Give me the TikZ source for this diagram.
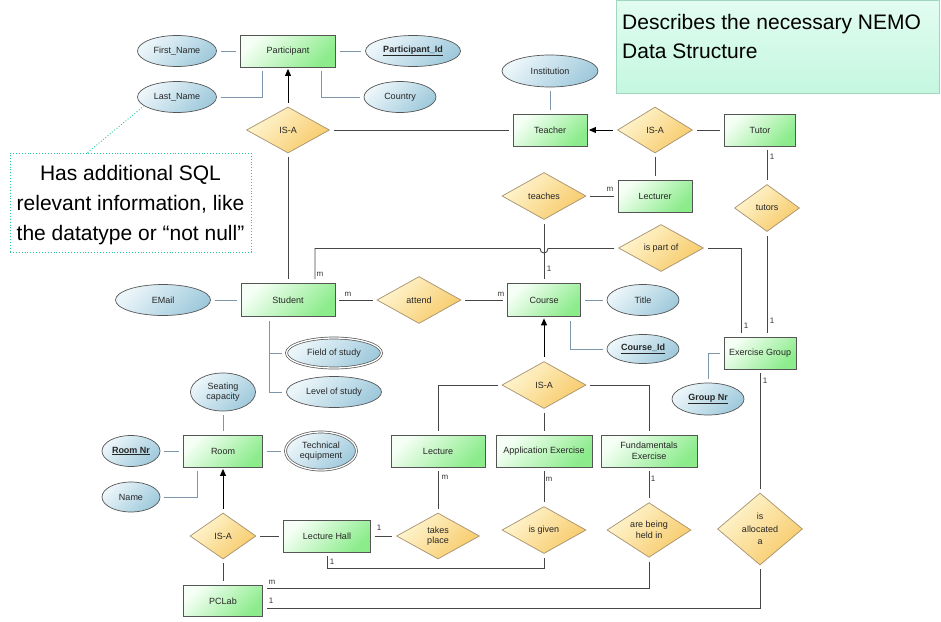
\documentclass[tikz,border=0pt]{standalone}
\usepackage{fontspec}
\setmainfont{Liberation Sans}
\usetikzlibrary{shapes.geometric,arrows.meta,calc}

\definecolor{entL}{RGB}{246,255,246}
\definecolor{entR}{RGB}{140,236,140}
\definecolor{attL}{RGB}{236,246,250}
\definecolor{attR}{RGB}{160,202,220}
\definecolor{relL}{RGB}{255,246,210}
\definecolor{relR}{RGB}{247,202,105}
\definecolor{edge}{RGB}{85,85,85}
\definecolor{reledge}{RGB}{165,145,110}
\definecolor{aline}{RGB}{125,150,172}
\definecolor{rline}{RGB}{70,70,70}
\definecolor{noteG}{RGB}{32,200,160}
\definecolor{noteT}{RGB}{226,252,241}
\definecolor{noteB}{RGB}{196,247,224}
\definecolor{noteE}{RGB}{160,215,190}

\tikzset{
  lbl/.style={font=\fontsize{9}{10.5}\selectfont, align=center, text=black!85},
  entity/.style={lbl, rectangle, draw=edge, line width=0.8pt,
    top color=entL, bottom color=entR, shading angle=45, inner sep=1pt},
  attr/.style={lbl, ellipse, draw=edge, line width=0.7pt,
    top color=attL, bottom color=attR, shading angle=45, inner sep=0pt},
  keyattr/.style={attr, font=\fontsize{9}{10.5}\selectfont\bfseries},
  multiattr/.style={attr, double=white, double distance=1.3pt},
  rel/.style={lbl, diamond, draw=reledge, line width=0.7pt,
    top color=relL, bottom color=relR, shading angle=45, inner sep=0pt},
  sz/.style 2 args={minimum width=#1pt, minimum height=#2pt},
  aconn/.style={draw=aline, line width=0.9pt, shorten <=4pt, shorten >=4pt},
  rconn/.style={draw=rline, line width=0.9pt, shorten <=4pt, shorten >=4pt},
  isarrow/.style={draw=black, line width=0.9pt, shorten <=4pt, shorten >=1.5pt,
    -{Triangle[length=7pt,width=6pt]}},
  card/.style={font=\fontsize{8}{9}\selectfont, inner sep=0pt, text=black!80},
}

\begin{document}
\begin{tikzpicture}[x=1pt,y=-1pt]
\useasboundingbox (0,0) rectangle (941,621);

% ---- note boxes ----
\node[rectangle, draw=noteE, line width=0.8pt, top color=noteT, bottom color=noteB,
      minimum width=323pt, minimum height=93pt, anchor=north west] (note1) at (616,0) {};
\node[anchor=north west, inner sep=0pt, align=left, font=\fontsize{21}{29}\selectfont]
      (note1txt) at ($(note1.north west)+(6,14)$) {Describes the necessary NEMO\\Data Structure};

\node[rectangle, draw=noteG, line width=0.9pt, dotted, fill=white,
      minimum width=241pt, minimum height=99pt] (note2) at (130.5,202.5) {};
\node[inner sep=0pt, align=center, font=\fontsize{21}{30}\selectfont]
      (note2txt) at (130.5,205.5) {Has additional SQL\\relevant information, like\\the datatype or “not null”};

% ---- participant cluster ----
\node[entity, sz={95}{32}] (part) at (288,51) {Participant};
\node[attr, sz={79}{31}] (fname) at (177,51) {First\_Name};
\node[keyattr, sz={95}{31}] (pid) at (413,51) {\underline{Participant\_Id}};
\node[attr, sz={79}{31}] (lname) at (177,97) {Last\_Name};
\node[attr, sz={72}{31}] (country) at (400,97) {Country};
\node[rel, sz={83}{46}] (isa1) at (288,130) {IS-A};

% ---- teacher cluster ----
\node[entity, sz={74}{32}] (teacher) at (550,130) {Teacher};
\node[attr, sz={96}{32}] (inst) at (550,71) {Institution};
\node[rel, sz={75}{46}] (isa2) at (655,130) {IS-A};
\node[entity, sz={71}{32}] (tutor) at (760,130) {Tutor};
\node[entity, sz={74}{32}] (lecturer) at (655,196) {Lecturer};
\node[rel, sz={84}{47}] (teaches) at (544,196) {teaches};
\node[rel, sz={85}{47}] (partof) at (661,248) {is part of};
\node[rel, sz={65}{47}] (tutors) at (767,208) {tutors};

% ---- exercise group ----
\node[entity, sz={72}{32}] (exgroup) at (760,353) {Exercise Group};
\node[keyattr, sz={72}{32}] (groupnr) at (708,399) {\underline{Group Nr}};
\node[rel, sz={85}{72}] (alloc) at (760,529) {is\\[2pt]allocated\\[2pt]a};

% ---- student / course ----
\node[entity, sz={94}{33}] (student) at (288,300) {Student};
\node[attr, sz={95}{31}] (email) at (163,300) {EMail};
\node[rel, sz={84}{47}] (attend) at (419,300) {attend};
\node[entity, sz={73}{33}] (course) at (544,300) {Course};
\node[attr, sz={72}{31}] (title) at (643,300) {Title};
\node[keyattr, sz={72}{29}] (courseid) at (643,349) {\underline{Course\_Id}};
\node[multiattr, sz={95}{30}] (field) at (334,353) {Field of study};
\node[attr, sz={95}{31}] (level) at (334,392) {Level of study};

% ---- course kinds ----
\node[rel, sz={84}{47}] (isa3) at (544,385) {IS-A};
\node[entity, sz={94}{32}] (lecture) at (438,451) {Lecture};
\node[entity, sz={96}{32}] (appex) at (544,451) {Application Exercise};
\node[entity, sz={96}{32}] (fundex) at (649,451) {Fundamentals\\Exercise};
\node[rel, sz={83}{46}] (takes) at (438,536) {takes\\place};
\node[rel, sz={84}{47}] (given) at (544,530) {is given};
\node[rel, sz={84}{47}] (held) at (649,530) {are being\\held in};

% ---- rooms ----
\node[entity, sz={79}{32}] (room) at (223,451) {Room};
\node[attr, sz={65}{38}] (seat) at (223,392) {Seating\\capacity};
\node[keyattr, sz={58}{31}] (roomnr) at (131,451) {\underline{Room Nr}};
\node[attr, sz={58}{30}] (name) at (131,497) {Name};
\node[multiattr, sz={71}{38}] (tech) at (321,451) {Technical\\equipment};
\node[rel, sz={66}{46}] (isa4) at (223,536) {IS-A};
\node[entity, sz={87}{32}] (lhall) at (327,536) {Lecture Hall};
\node[entity, sz={79}{31}] (pclab) at (223,601) {PCLab};

% ---- attribute links ----
\draw[aconn] (fname.east) -- (part.west);
\draw[aconn] (part.east) -- (pid.west);
\draw[aconn] (lname.east) -| ($(part.south)+(-26,0)$);
\draw[aconn] (country.west) -| ($(part.south)+(33,0)$);
\draw[aconn] (inst.south) -- (teacher.north);
\draw[aconn] (email.east) -- (student.west);
\draw[aconn] (title.west) -- (course.east);
\draw[aconn] (courseid.west) -| ($(course.south)+(26,0)$);
\draw[aconn] (groupnr.north) |- (exgroup.west);
\draw[aconn] ($(student.south)+(-19,0)$) |- (field.west);
\draw[aconn] ($(student.south)+(-19,0)$) |- (level.west);
\draw[aconn] (seat.south) -- (room.north);
\draw[aconn] (roomnr.east) -- (room.west);
\draw[aconn] (name.east) -| ($(room.south)+(-26,0)$);
\draw[aconn] (room.east) -- (tech.west);

% ---- generalisations ----
\draw[isarrow] (isa1.north) -- (part.south);
\draw[isarrow] (isa2.west) -- (teacher.east);
\draw[isarrow] (isa3.north) -- (course.south);
\draw[isarrow] (isa4.north) -- (room.south);
\draw[rconn] (isa1.east) -- (teacher.west);
\draw[rconn] (isa1.south) -- (student.north);
\draw[rconn] (isa2.east) -- (tutor.west);
\draw[rconn] (isa2.south) -- (lecturer.north);
\draw[rconn] (isa3.west) -| (lecture.north);
\draw[rconn] (isa3.east) -| (fundex.north);
\draw[rconn] (isa3.south) -- (appex.north);
\draw[rconn] (isa4.east) -- (lhall.west);
\draw[rconn] (isa4.south) -- (pclab.north);

% ---- relationships ----
\coordinate (sbend) at (315,248.5);
\coordinate (hopL) at (540,248.5);
\coordinate (hopR) at (548,248.5);
\draw[rconn] (teaches.east) -- (lecturer.west);
\draw[rconn] (teaches.south) -- (course.north);
\draw[rconn] (student.north -| sbend) -- (sbend) -- (hopL)
   .. controls ($(hopL)+(0,6)$) and ($(hopR)+(0,6)$) .. (hopR) -- (partof.west |- sbend);
\draw[rconn] (partof.east) -| ($(exgroup.north)+(-19,0)$);
\draw[rconn] ($(tutor.south)+(7,0)$) -- (tutors.north);
\draw[rconn] (tutors.south) -- ($(exgroup.north)+(7,0)$);
\draw[rconn] (exgroup.south) -- (alloc.north);
\draw[rconn] (alloc.south) |- ($(pclab.east)+(0,7)$);
\draw[rconn] (held.south) |- ($(pclab.east)+(0,-13)$);
\draw[rconn] (student.east) -- (attend.west);
\draw[rconn] (attend.east) -- (course.west);
\draw[rconn] (lecture.south) -- (takes.north);
\draw[rconn] (appex.south) -- (given.north);
\draw[rconn] (fundex.south) -- (held.north);
\draw[rconn] (lhall.east) -- (takes.west);
\draw[rconn] (lhall.south) |- ($(given.south)+(0,15)$) -- (given.south);

% ---- annotation pointer ----
\draw[draw=noteG, line width=0.9pt, dotted] ($(note2.north west)+(78,0)$) -- (lname.195);

% ---- cardinalities ----
\node[card] (c1) at (610,189) {m};
\node[card] (c2) at (549,269) {1};
\node[card] (c3) at (320,274) {m};
\node[card] (c4) at (348,294) {m};
\node[card] (c5) at (501,294) {m};
\node[card] (c6) at (746,326) {1};
\node[card] (c7) at (772,157) {1};
\node[card] (c8) at (772,321) {1};
\node[card] (c9) at (765,381) {1};
\node[card] (c10) at (445,477) {m};
\node[card] (c11) at (549,479) {m};
\node[card] (c12) at (653,479) {1};
\node[card] (c13) at (379,528) {1};
\node[card] (c14) at (332,562) {1};
\node[card] (c15) at (272,582) {m};
\node[card] (c16) at (271,601) {1};
\end{tikzpicture}
\end{document}
